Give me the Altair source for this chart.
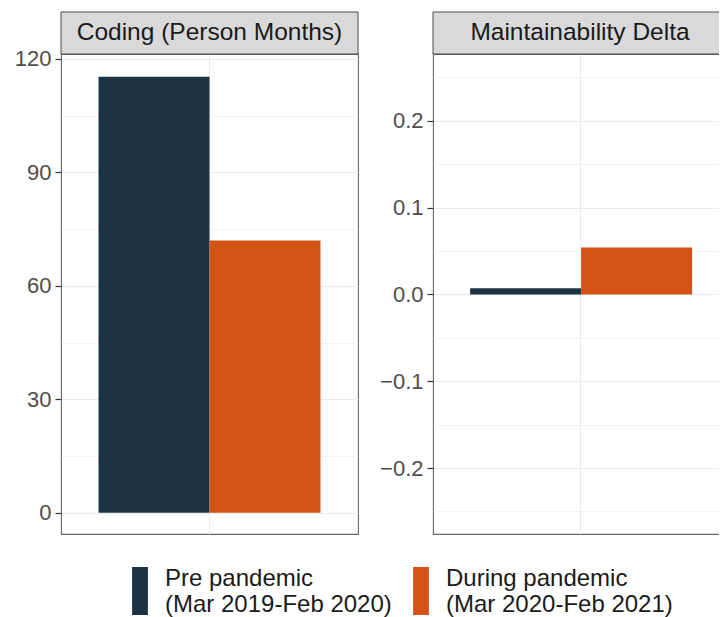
import json
import altair as alt
import pandas as pd

# ---- data ----
panels = ["Coding (Person Months)", "Maintainability Delta"]
periods = ["Pre pandemic (Mar 2019-Feb 2020)", "During pandemic (Mar 2020-Feb 2021)"]
coding_values = [115.3, 72.0]
maint_values = [0.007, 0.054]
coding_major = [0, 30, 60, 90, 120]
coding_minor = [15, 45, 75, 105]
maint_major = [-0.2, -0.1, 0.0, 0.1, 0.2]
maint_minor = [-0.25, -0.15, -0.05, 0.05, 0.15, 0.25]
coding_domain = [-5.6, 121.3]
maint_domain = [-0.276, 0.277]
colors = ["#1b3345", "#d35317"]

rows = []
for p, v in zip(periods, coding_values):
    rows.append({"panel": panels[0], "period": p, "value": v})
for p, v in zip(periods, maint_values):
    rows.append({"panel": panels[1], "period": p, "value": v})
df = pd.DataFrame(rows)

FONT = "Liberation Sans"
PANEL_H = 480
STRIP_H = 42


def make_panel(name, major, minor, domain, width):
    test = f"indexof({json.dumps(major)}, datum.value) >= 0"
    all_ticks = sorted(major + minor)
    bars = alt.Chart(df).transform_filter(alt.datum.panel == name).mark_bar(
        strokeWidth=0
    ).encode(
        x=alt.X(
            "panel:N", title=None,
            scale=alt.Scale(paddingInner=0, paddingOuter=0.169),
            axis=alt.Axis(labels=False, ticks=False, domain=False, grid=True,
                          bandPosition=0.5, gridColor="#ebebeb", gridWidth=1.1),
        ),
        xOffset=alt.XOffset("period:N", sort=periods,
                            scale=alt.Scale(paddingInner=0, paddingOuter=0)),
        y=alt.Y(
            "value:Q", title=None,
            scale=alt.Scale(domain=domain, nice=False),
            axis=alt.Axis(
                values=all_ticks,
                labelExpr=f"{test} ? datum.label : ''",
                format=".1f" if name == panels[1] else "d",
                domain=False,
                tickColor="#333333", tickWidth=1.2, tickSize=6,
                tickOpacity={"condition": {"test": test, "value": 1}, "value": 0},
                labelColor="#4d4d4d", labelFontSize=22, labelFont=FONT,
                labelPadding=4,
                gridColor="#ebebeb",
                gridWidth={"condition": {"test": test, "value": 1.1}, "value": 0.6},
            ),
        ),
        y2=alt.Y2(datum=0),
        color=alt.Color(
            "period:N", sort=periods,
            scale=alt.Scale(domain=periods, range=colors),
            legend=alt.Legend(
                title=None, orient="none", direction="horizontal",
                legendX=55, legendY=513,
                symbolType="M-0.33,-1L0.33,-1L0.33,1L-0.33,1Z",
                symbolSize=2304, symbolStrokeWidth=0,
                labelExpr="[split(datum.label, ' (')[0], '(' + split(datum.label, ' (')[1]]",
                labelFontSize=24, labelFont=FONT, labelColor="#1a1a1a",
                labelBaseline="bottom",
                labelLimit=400, labelOffset=1, columnPadding=5,
            ),
        ),
    )
    strip_df = pd.DataFrame({"panel": [name]})
    strip_bg = alt.Chart(strip_df).mark_rect(
        fill="#d9d9d9", stroke="#4d4d4d", strokeWidth=1
    ).encode(
        x=alt.value(0), x2=alt.value(width),
        y=alt.value(-STRIP_H), y2=alt.value(0),
    )
    strip_txt = alt.Chart(strip_df).mark_text(
        font=FONT, fontSize=24.5, color="#1a1a1a", baseline="middle", align="center"
    ).encode(
        x=alt.value(width / 2), y=alt.value(-STRIP_H / 2), text="panel:N",
    )
    return alt.layer(bars, strip_bg, strip_txt).properties(width=width, height=PANEL_H)


left = make_panel(panels[0], coding_major, coding_minor, coding_domain, 297)
right = make_panel(panels[1], maint_major, maint_minor, maint_domain, 294)

chart = alt.hconcat(left, right, spacing=19).properties(
    padding={"left": 13, "top": 10, "right": -10, "bottom": 0}
).configure(
    font=FONT, background="white"
).configure_view(
    stroke="#666666", strokeWidth=1.1
)

chart.save("out.html", embed_options={"renderer": "svg", "actions": False})
